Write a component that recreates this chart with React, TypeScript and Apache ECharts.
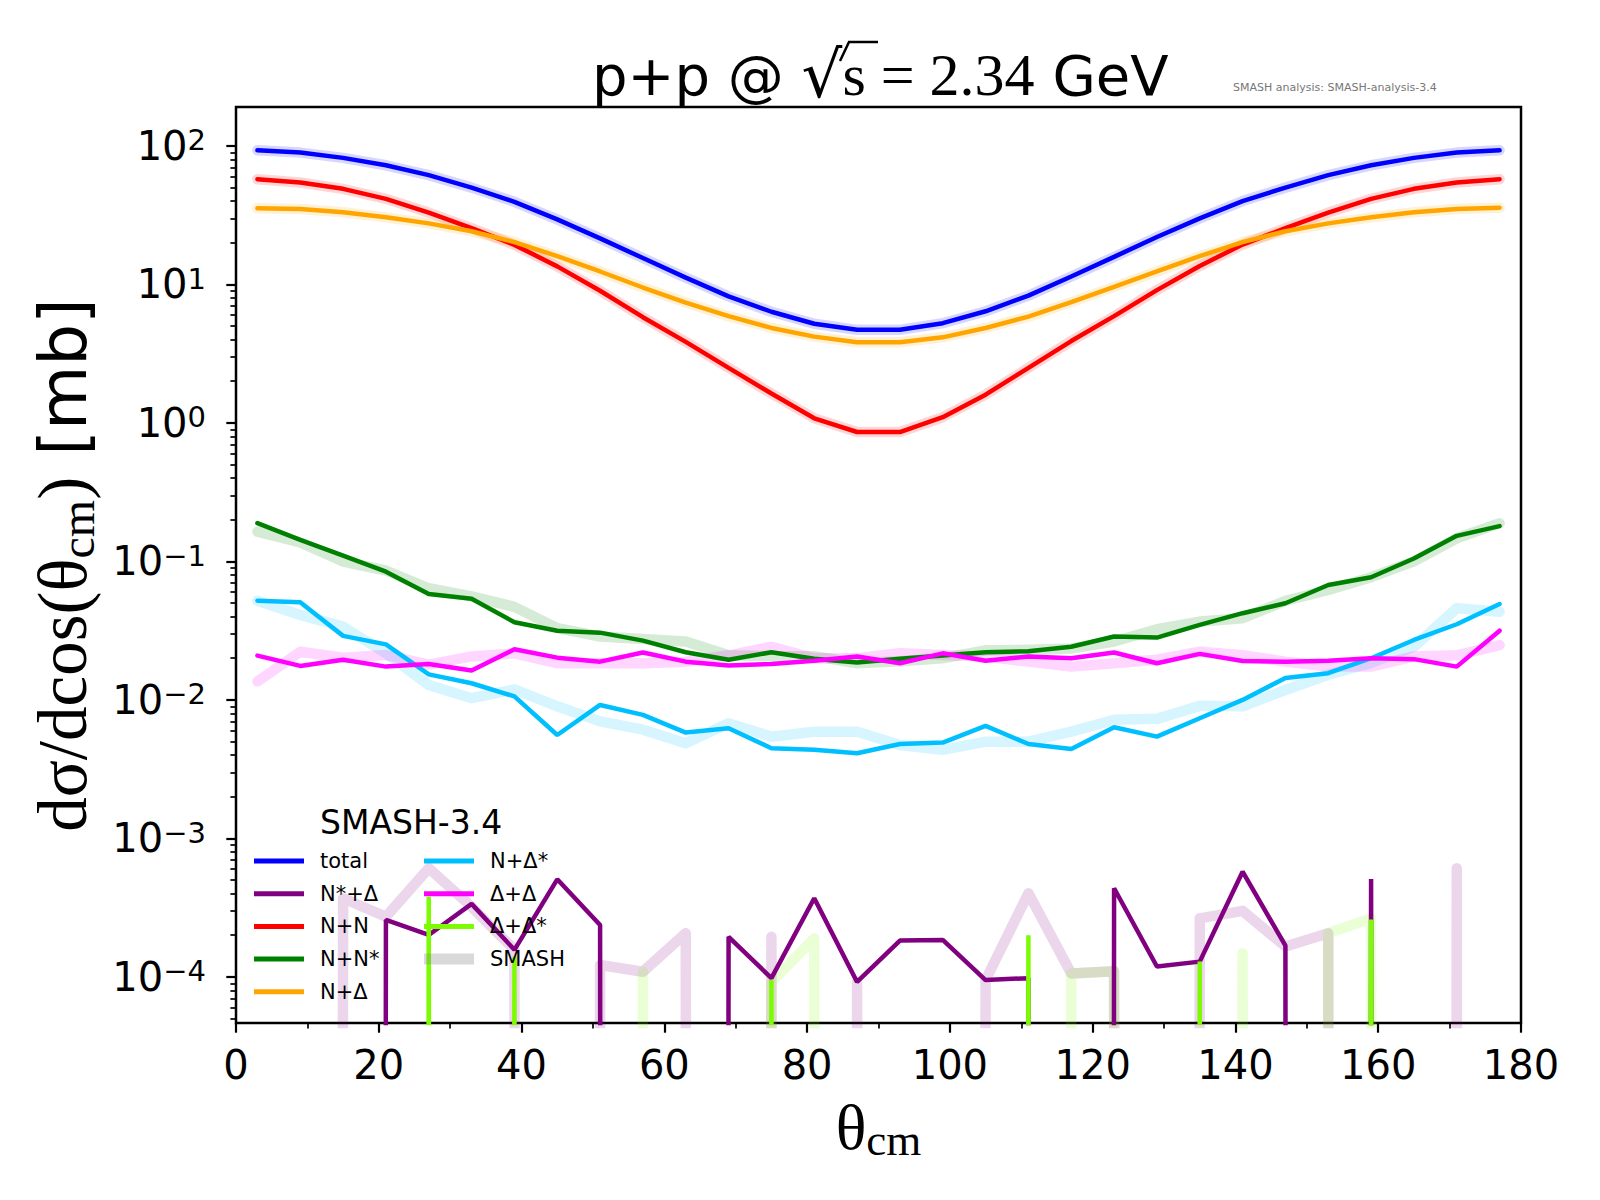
import React, { useEffect, useRef } from "react";
import * as echarts from "echarts";

// bin centres of the 6 deg wide theta_cm bins
const theta = [3, 9, 15, 21, 27, 33, 39, 45, 51, 57, 63, 69, 75, 81, 87, 93, 99, 105, 111, 117, 123, 129, 135, 141, 147, 153, 159, 165, 171, 177];

// dsigma/dcos(theta) in mb, 0 = empty bin
const total = [93, 89.5, 82, 72.5, 61.5, 50, 39.5, 29.5, 21.5, 15.5, 11.2, 8.2, 6.35, 5.2, 4.7, 4.7, 5.25, 6.4, 8.3, 11.4, 15.8, 22, 30, 40, 50, 61.5, 72.5, 82, 89.5, 93];
const nStarDelta = [0, 0, 0, 2.58e-4, 2.01e-4, 3.37e-4, 1.57e-4, 5.07e-4, 2.37e-4, 0, 0, 1.95e-4, 9.8e-5, 3.7e-4, 9.2e-5, 1.83e-4, 1.85e-4, 9.5e-5, 9.8e-5, 0, 4.37e-4, 1.19e-4, 1.29e-4, 5.75e-4, 1.68e-4, 0, 5.1e-4, 0, 0, 0];
const nn = [57.5, 54.5, 49, 41.5, 33, 25.5, 19.3, 13.5, 9.0, 5.8, 3.85, 2.5, 1.63, 1.08, 0.86, 0.86, 1.1, 1.6, 2.5, 3.9, 5.9, 9.1, 13.6, 19.4, 25.5, 33, 41.5, 49, 54.5, 57.5];
const nnStar = [0.189, 0.143, 0.11, 0.0844, 0.0582, 0.0538, 0.0364, 0.0316, 0.0306, 0.0268, 0.0221, 0.0195, 0.0221, 0.0198, 0.0186, 0.0198, 0.0209, 0.0221, 0.0225, 0.0242, 0.0287, 0.0282, 0.0348, 0.0423, 0.0499, 0.0676, 0.0769, 0.105, 0.153, 0.18];
const nDelta = [35.5, 35, 33.2, 30.5, 27.6, 24.2, 20.2, 16, 12.4, 9.5, 7.4, 5.9, 4.85, 4.2, 3.82, 3.82, 4.15, 4.85, 5.85, 7.45, 9.6, 12.4, 16, 20.2, 24.2, 27.6, 30.5, 33.2, 35, 35.8];
const nDeltaStar = [0.0521, 0.0507, 0.029, 0.0252, 0.0153, 0.0132, 0.0106, 0.00558, 0.0092, 0.0078, 0.00581, 0.00625, 0.00448, 0.00436, 0.00412, 0.00481, 0.00492, 0.00649, 0.00481, 0.00442, 0.00635, 0.00543, 0.00738, 0.01, 0.0144, 0.0156, 0.02, 0.0271, 0.0352, 0.0493];
const deltaDelta = [0.0209, 0.0176, 0.0195, 0.0174, 0.0182, 0.0163, 0.0232, 0.0202, 0.0189, 0.022, 0.0189, 0.0177, 0.0182, 0.0192, 0.0206, 0.0184, 0.0217, 0.0192, 0.0206, 0.02, 0.022, 0.0184, 0.0215, 0.0191, 0.0189, 0.0192, 0.02, 0.0197, 0.0174, 0.0316];
const deltaDeltaStar = [0, 0, 0, 0, 3.8e-4, 0, 1.4e-4, 0, 0, 0, 0, 0, 9.5e-5, 0, 0, 0, 0, 0, 2.0e-4, 0, 0, 0, 1.29e-4, 0, 0, 0, 2.6e-4, 0, 0, 0];

// reference "SMASH" curves, drawn as wide pale bands
const refNStarDelta = [0, 0, 3.7e-4, 2.72e-4, 6.1e-4, 3.2e-4, 1.57e-4, 0, 1.22e-4, 1.09e-4, 2.07e-4, 0, 1.95e-4, 0, 9.2e-5, 0, 0, 9.5e-5, 4.02e-4, 1.06e-4, 1.1e-4, 0, 2.65e-4, 3.0e-4, 1.66e-4, 2.07e-4, 0, 0, 6.1e-4, 0];
const refNNStar = [0.164, 0.137, 0.0998, 0.086, 0.064, 0.056, 0.047, 0.033, 0.0287, 0.0275, 0.0264, 0.021, 0.0207, 0.0207, 0.0184, 0.019, 0.02, 0.0228, 0.023, 0.0235, 0.0264, 0.0324, 0.0368, 0.0389, 0.052, 0.0622, 0.077, 0.1, 0.147, 0.189];
const refNDeltaStar = [0.052, 0.0411, 0.0338, 0.0217, 0.0128, 0.0103, 0.0119, 0.009, 0.007, 0.0061, 0.00486, 0.0068, 0.00543, 0.0059, 0.0059, 0.00473, 0.00436, 0.005, 0.005, 0.0059, 0.00718, 0.0073, 0.00906, 0.009, 0.0118, 0.0152, 0.0185, 0.0242, 0.0459, 0.0434];
const refDeltaDelta = [0.0136, 0.0223, 0.0202, 0.0211, 0.018, 0.0206, 0.0217, 0.0184, 0.0184, 0.0184, 0.0189, 0.021, 0.0242, 0.02, 0.02, 0.0217, 0.0211, 0.0206, 0.0189, 0.0174, 0.0184, 0.0195, 0.0223, 0.021, 0.0189, 0.0174, 0.0174, 0.0206, 0.021, 0.0249];
const refDeltaDeltaStar = [0, 0, 0, 0, 0, 0, 0, 0, 0, 1.09e-4, 0, 0, 9.2e-5, 1.9e-4, 0, 0, 0, 0, 0, 1.06e-4, 1.1e-4, 0, 0, 1.48e-4, 0, 2.07e-4, 2.65e-4, 0, 0, 0];

const xTicks = [0, 20, 40, 60, 80, 100, 120, 140, 160, 180];
const yMajor = [1e-4, 1e-3, 1e-2, 1e-1, 1, 10, 100];

const SANS = '"DejaVu Sans", sans-serif';
const SERIF = '"Liberation Serif", "DejaVu Serif", serif';
const Y_MIN = 4.65e-5;
const Y_MAX = 191;
// log axis can't show 0; clip it far below like matplotlib does
const LOG_FLOOR = 1e-300;

const channels = [
  { name: "total", color: "#0000ff", line: total, ref: total },
  { name: "N*+Δ", color: "#800080", line: nStarDelta, ref: refNStarDelta },
  { name: "N+N", color: "#ff0000", line: nn, ref: nn },
  { name: "N+N*", color: "#008000", line: nnStar, ref: refNNStar },
  { name: "N+Δ", color: "#ffa500", line: nDelta, ref: nDelta },
  { name: "N+Δ*", color: "#00bfff", line: nDeltaStar, ref: refNDeltaStar },
  { name: "Δ+Δ", color: "#ff00ff", line: deltaDelta, ref: refDeltaDelta },
  { name: "Δ+Δ*", color: "#7cfc00", line: deltaDeltaStar, ref: refDeltaDeltaStar },
];

const points = (ys: number[]) => theta.map((t, i) => [t, ys[i] > 0 ? ys[i] : LOG_FLOOR]);

const App = () => {
  const chartRef = useRef<HTMLDivElement>(null);

  useEffect(() => {
    document.body.style.margin = "0";
    const chart = echarts.init(chartRef.current!, null, { renderer: "svg" });

    const yMinor: number[] = [];
    for (let e = -5; e <= 2; e++) {
      for (let m = 2; m <= 9; m++) {
        const v = m * Math.pow(10, e);
        if (v > Y_MIN && v < Y_MAX) yMinor.push(v);
      }
    }

    const bands = channels.map((c) => ({
      name: c.name + " ref",
      type: "line",
      data: points(c.ref),
      symbol: "none",
      color: c.color,
      lineStyle: { width: 10.5, color: c.color, opacity: 0.16, cap: "round", join: "round" },
      z: 1,
      silent: true,
    }));
    const lines = channels.map((c) => ({
      name: c.name,
      type: "line",
      data: points(c.line),
      symbol: "none",
      color: c.color,
      lineStyle: { width: 4.5, color: c.color, cap: "round" },
      z: 2,
      silent: true,
    }));

    const legendCommon = {
      orient: "vertical",
      itemWidth: 50,
      itemHeight: 5,
      itemGap: 8.7,
      icon: "rect",
      padding: 0,
      selectedMode: false,
      textStyle: { fontFamily: SANS, fontSize: 21, color: "#000", lineHeight: 24, padding: [0, 0, 0, 11] },
    };

    const option = {
      animation: false,
      backgroundColor: "#fff",
      title: {
        text: "{sans|p+p @ }{rad|√}{ser|s = 2.34}{sans| GeV}",
        left: 592,
        top: 45,
        padding: 0,
        textStyle: {
          rich: {
            sans: { fontFamily: SANS, fontSize: 56, lineHeight: 60, color: "#000", fontWeight: "normal" },
            rad: { fontFamily: SANS, fontSize: 64, lineHeight: 60, color: "#000", fontWeight: "normal" },
            ser: { fontFamily: SERIF, fontSize: 60, lineHeight: 60, color: "#000", fontWeight: "normal" },
          },
        },
      },
      legend: [
        { ...legendCommon, data: ["total", "N*+Δ", "N+N", "N+N*", "N+Δ"], left: 254, top: 849 },
        { ...legendCommon, data: ["N+Δ*", "Δ+Δ", "Δ+Δ*"], left: 424, top: 849 },
        { ...legendCommon, data: ["SMASH"], left: 424, top: 947, itemHeight: 11 },
      ],
      grid: { left: 236, top: 107, width: 1285, height: 916, containLabel: false, outerBoundsMode: "none", show: true, borderColor: "#000", borderWidth: 2.5 },
      xAxis: {
        type: "value",
        min: 0,
        max: 180,
        interval: 20,
        axisLine: { show: false },
        splitLine: { show: false },
        axisTick: { length: 9.7, lineStyle: { color: "#000", width: 2.2 } },
        minorTick: { show: true, splitNumber: 2, length: 5.6, lineStyle: { color: "#000", width: 1.7 } },
        axisLabel: {
          customValues: xTicks,
          margin: 22,
          color: "#000",
          fontFamily: SANS,
          fontSize: 40,
          lineHeight: 40,
        },
        name: "{ser|θ}{sub|cm}",
        nameLocation: "middle",
        nameGap: 69,
        nameTextStyle: {
          rich: {
            ser: { fontFamily: SERIF, fontSize: 64, lineHeight: 70, color: "#000" },
            sub: { fontFamily: SERIF, fontSize: 45, lineHeight: 34, verticalAlign: "bottom", color: "#000" },
          },
        },
      },
      yAxis: [
        {
          type: "log",
          logBase: 10,
          min: Y_MIN,
          max: Y_MAX,
          position: "left",
          axisLine: { show: false },
          splitLine: { show: false },
          axisTick: { customValues: yMajor, length: 9.7, lineStyle: { color: "#000", width: 2.2 } },
          axisLabel: {
            customValues: yMajor,
            margin: 30,
            formatter: (v: number) => {
              const e = Math.round(Math.log10(v));
              return "{b|10}{s|" + (e < 0 ? "−" + -e : String(e)) + "}";
            },
            rich: {
              b: { fontFamily: SANS, fontSize: 40, lineHeight: 40, color: "#000" },
              s: { fontFamily: SANS, fontSize: 29, lineHeight: 22, verticalAlign: "top", color: "#000" },
            },
          },
          name: "{ser|dσ/dcos(θ}{sub|cm}{ser|)}{sans| [mb]}",
          nameLocation: "middle",
          nameRotate: 90,
          nameGap: 129,
          nameTextStyle: {
            rich: {
              ser: { fontFamily: SERIF, fontSize: 69, lineHeight: 76, color: "#000" },
              sub: { fontFamily: SERIF, fontSize: 48, lineHeight: 36, verticalAlign: "bottom", color: "#000" },
              sans: { fontFamily: SANS, fontSize: 66, lineHeight: 76, color: "#000" },
            },
          },
        },
        {
          // minor ticks at 2..9 x 10^n
          type: "log",
          logBase: 10,
          min: Y_MIN,
          max: Y_MAX,
          position: "left",
          axisLine: { show: false },
          splitLine: { show: false },
          axisLabel: { show: false },
          axisTick: { customValues: yMinor, length: 5.6, lineStyle: { color: "#000", width: 1.7 } },
        },
      ],
      graphic: [
        // radical extension + vinculum over the s
        { type: "polyline", shape: { points: [[840, 61], [849, 42], [878, 42]] }, style: { stroke: "#000", lineWidth: 2.5, fill: null } },
        {
          type: "text",
          x: 1233,
          y: 87,
          style: { text: "SMASH analysis: SMASH-analysis-3.4", font: `11px ${SANS}`, fill: "#777", textVerticalAlign: "middle" },
        },
        {
          type: "text",
          x: 320,
          y: 822,
          style: { text: "SMASH-3.4", font: `33px ${SANS}`, fill: "#000", textVerticalAlign: "middle" },
        },
      ],
      series: [
        ...bands,
        ...lines,
        { name: "SMASH", type: "line", data: [], color: "rgba(128,128,128,0.3)", symbol: "none" },
      ],
    };

    chart.setOption(option as any);
    return () => {
      chart.dispose();
    };
  }, []);

  return <div ref={chartRef} style={{ width: 1600, height: 1200 }} />;
};

export default App;
